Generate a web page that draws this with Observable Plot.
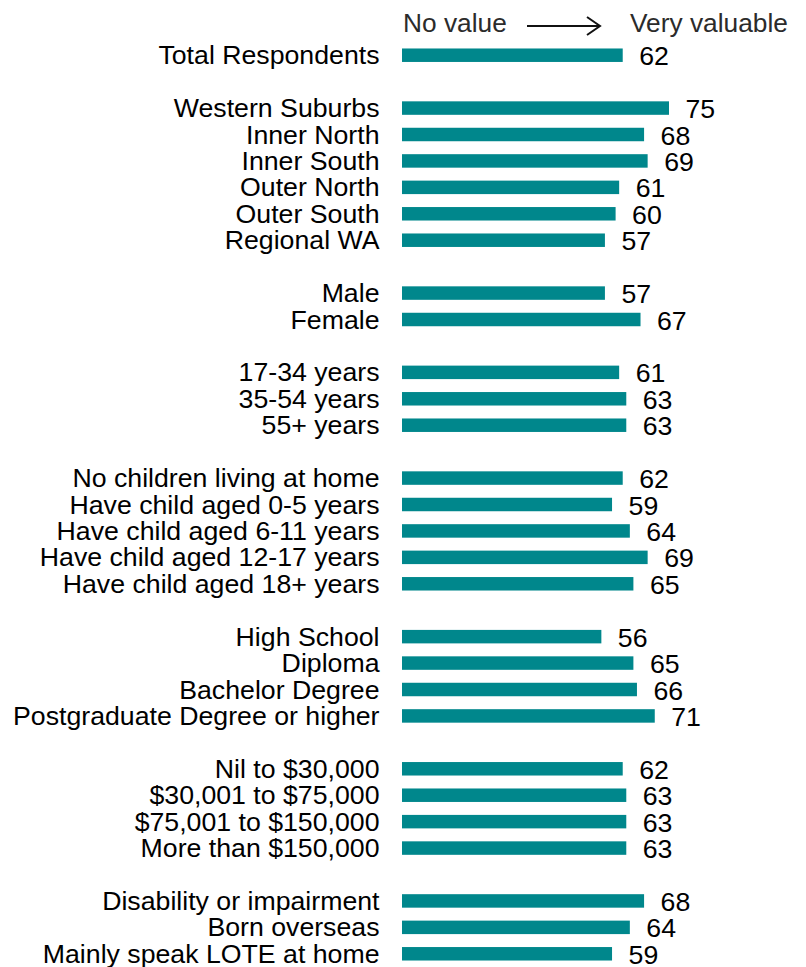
<!DOCTYPE html>
<html>
<head>
<meta charset="utf-8">
<script src="https://cdn.jsdelivr.net/npm/d3@7"></script>
<script src="https://cdn.jsdelivr.net/npm/@observablehq/plot@0.6"></script>
<style>
  body { margin: 0; background: #fff; font-family: "Liberation Sans", Arial, sans-serif; }
  #wrap { position: relative; width: 806px; height: 967px; }
  #hdr { position: absolute; top: 8px; left: 0; width: 806px; height: 34px; font-size: 26.3px; color: #2b2b2b; }
  #hdr span { position: absolute; top: 0; white-space: nowrap; }
  #hdr svg { position: absolute; }
</style>
</head>
<body>
<div id="wrap">
  <div id="hdr">
    <span style="left:403px">No value</span>
    <svg style="left:525px;top:5px" width="80" height="26"><line x1="2" y1="13" x2="75" y2="13" stroke="#111" stroke-width="2"/><path d="M62,4 L75,13 L62,22" fill="none" stroke="#111" stroke-width="2"/></svg>
    <span style="left:630px">Very valuable</span>
  </div>
  <div id="chart"></div>
</div>
<script>
// null entries mark the blank spacer rows between groups
const categories = [
  "Total Respondents", null,
  "Western Suburbs", "Inner North", "Inner South", "Outer North", "Outer South", "Regional WA", null,
  "Male", "Female", null,
  "17-34 years", "35-54 years", "55+ years", null,
  "No children living at home", "Have child aged 0-5 years", "Have child aged 6-11 years", "Have child aged 12-17 years", "Have child aged 18+ years", null,
  "High School", "Diploma", "Bachelor Degree", "Postgraduate Degree or higher", null,
  "Nil to $30,000", "$30,001 to $75,000", "$75,001 to $150,000", "More than $150,000", null,
  "Disability or impairment", "Born overseas", "Mainly speak LOTE at home"
];
const values = [
  62, null,
  75, 68, 69, 61, 60, 57, null,
  57, 67, null,
  61, 63, 63, null,
  62, 59, 64, 69, 65, null,
  56, 65, 66, 71, null,
  62, 63, 63, 63, null,
  68, 64, 59
];

const rows = categories.map((c, i) => ({key: String(i), label: c ?? "", value: values[i]}));
const data = rows.filter(d => d.value != null);
const labelOf = new Map(rows.map(d => [d.key, d.label]));

const chart = Plot.plot({
  width: 806,
  height: 967,
  marginTop: 42,
  marginBottom: 0,
  marginLeft: 402,
  marginRight: 48,
  style: {fontFamily: "'Liberation Sans', Arial, sans-serif", fontSize: "26.7px", color: "#000", background: "#fff"},
  x: {domain: [0, 100], axis: null},
  y: {domain: rows.map(d => d.key), paddingInner: 0.49, paddingOuter: 0.245, round: false, label: null, tickSize: 0, tickPadding: 23, tickFormat: k => labelOf.get(k)},
  marks: [
    Plot.barX(data, {x: "value", y: "key", fill: "#00878C"}),
    Plot.text(data, {x: "value", y: "key", text: d => String(d.value), textAnchor: "start", dx: 16, dy: 1, fontSize: 26.7, fill: "#000"})
  ]
});
chart.querySelectorAll("[aria-label='y-axis tick label'] text").forEach(t => t.setAttribute("fill", "#000"));
document.getElementById("chart").appendChild(chart);
</script>
</body>
</html>
